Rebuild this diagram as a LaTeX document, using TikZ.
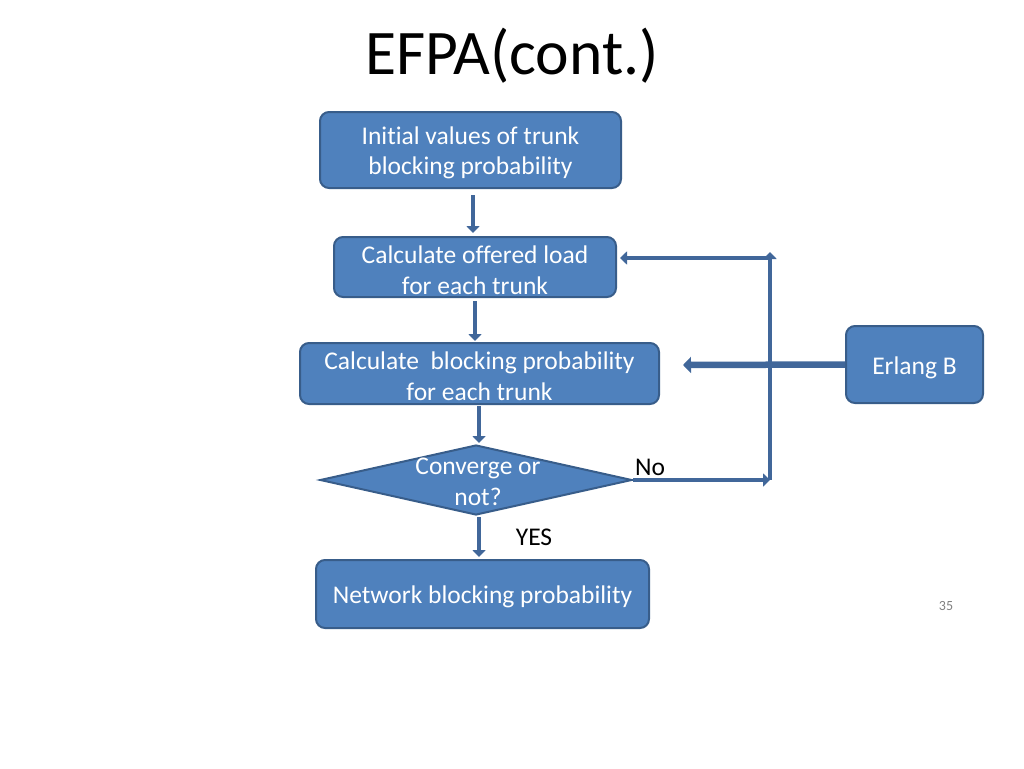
\documentclass[tikz,border=0pt]{standalone}
\usepackage{fontspec}
\setmainfont[Ligatures=NoCommon]{Carlito}
\usetikzlibrary{shapes.geometric,arrows.meta}
\definecolor{boxfill}{HTML}{4F81BD}
\definecolor{boxline}{HTML}{385D8A}
\definecolor{arrcol}{HTML}{41679A}
\begin{document}
\begin{tikzpicture}[x=1pt,y=-1pt,
  box/.style={draw=boxline,line width=2pt,fill=boxfill,rounded corners=9pt,inner sep=0pt},
  lbl/.style={font=\fontsize{25.5}{30.5}\selectfont,inner sep=0pt},
  btxt/.style={lbl,text=white,align=center},
  arr/.style={draw=arrcol,line width=4.5pt,-{Triangle[length=7pt,width=13pt]}}]
\useasboundingbox (0,0) rectangle (1024,768);
\node[font=\fontsize{63.5}{66}\selectfont] (title) at (512,56) {EFPA(cont.)};
\node[box,minimum width=301,minimum height=76] (b1) at (470.5,150) {};
\node[btxt] (t1) at (470.5,153) {Initial values of trunk\\blocking probability};
\node[box,minimum width=282,minimum height=60] (b2) at (475,267) {};
\node[btxt] (t2) at (475,270) {Calculate offered load\\for each trunk};
\node[box,minimum width=359,minimum height=61] (b3) at (479.5,373.5) {};
\node[btxt] (t3) at (479.5,376) {Calculate\ \ blocking probability\\for each trunk};
\node[diamond,draw=boxline,line width=2pt,fill=boxfill,minimum width=312,minimum height=70,inner sep=0pt] (d) at (476,480) {};
\node[btxt] (dt) at (478,482) {Converge or\\not?};
\node[box,minimum width=333,minimum height=68] (b5) at (482.5,594) {};
\node[btxt] (t5) at (482.5,597) {Network blocking probability};
\node[box,minimum width=137,minimum height=77] (erl) at (914.5,364.5) {};
\node[btxt] (te) at (914.5,367.5) {Erlang B};
\node[lbl] (no) at (650,467) {No};
\node[lbl] (yes) at (534,537) {YES};
\node[font=\fontsize{14}{16}\selectfont,text=gray,inner sep=0pt] (pg) at (946,606) {35};
\coordinate (c1) at (770,480);
\coordinate (c2) at (770,252);
\coordinate (c3) at (768,258);
\coordinate (c4) at (620,258);
\coordinate (tip) at (683,365);
\draw[arr] (473,195) -- (473,233);
\draw[arr] (475,301) -- (475,341);
\draw[arr] (479,406) -- (479,443);
\draw[arr] (479,517) -- (479,557);
\draw[arr] (d.east) -- (c1);
\draw[arr] (c1) -- (c2);
\draw[arr] (c3) -- (c4);
\draw[arr,line width=6.5pt,-{Triangle[length=8pt,width=16pt]}] (erl.west) -- (tip);
\end{tikzpicture}
\end{document}
